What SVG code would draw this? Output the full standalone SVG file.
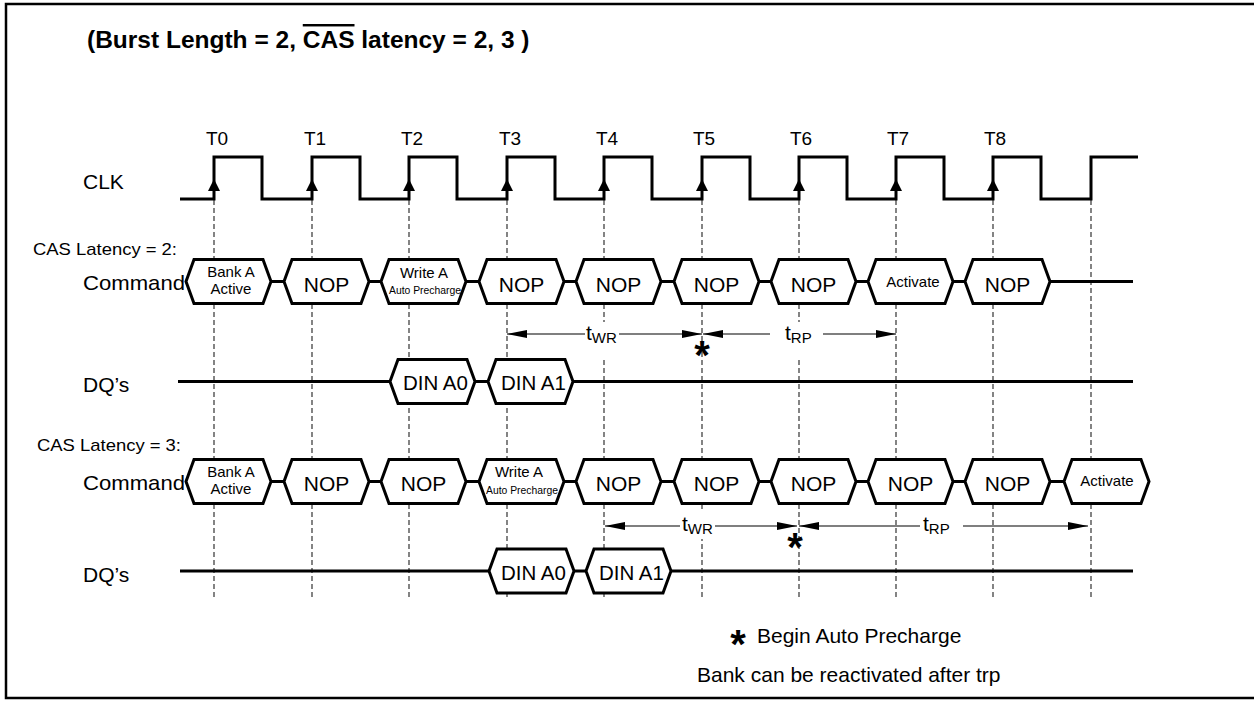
<svg xmlns="http://www.w3.org/2000/svg" xmlns:xlink="http://www.w3.org/1999/xlink" width="1254" height="701" viewBox="0 0 1254 701">
<style>
  text { font-family: "Liberation Sans", Arial, sans-serif; fill: #000; }
  .lbl { font-size: 21px; }
  .small { font-size: 15px; }
  .tiny { font-size: 11.5px; }
  .mid { text-anchor: middle; }
  .sig { fill: none; stroke: #000; stroke-width: 3; stroke-linejoin: miter; }
  .hex { fill: #fff; stroke: #000; stroke-width: 3; stroke-linejoin: miter; }
  .dash { stroke: #333; stroke-width: 1.2; stroke-dasharray: 5 3; fill: none; }
  .arr { stroke: #000; stroke-width: 1.2; fill: none; marker-end: url(#ah); }
  .mask { fill: #fff; stroke: none; }
  .star { font-size: 40px; font-weight: bold; text-anchor: middle; }
  .tt { font-size: 21px; }
  .sub { font-size: 15px; }
</style>
<defs>
  <marker id="ah" markerUnits="userSpaceOnUse" markerWidth="21" markerHeight="9" refX="20" refY="4" orient="auto">
    <path d="M0,0 L20,4 L0,8 Z" fill="#000"/>
  </marker>
  <path id="hx" d="M0,0 L8,-22 L77,-22 L85,0 L77,22 L8,22 Z"/>
  <path id="up" d="M0,-10 L-6,2 L6,2 Z" fill="#000"/>
</defs>
<rect width="1254" height="701" fill="#fff"/>

<g id="frame">
  <path d="M1254,4 H6 V698 H1254" fill="none" stroke="#000" stroke-width="2.5"/>
</g>

<g id="title">
  <text x="87" y="48" style="font-size:24.5px;font-weight:bold">(Burst Length = 2, <tspan style="text-decoration:overline">CAS</tspan> latency = 2, 3 )</text>
</g>

<g id="gridlines">
  <path class="dash" d="M214,200 V600 M312,200 V600 M409,200 V600 M507,200 V600 M604,200 V600 M702,200 V600 M799,200 V600 M896,200 V600 M993,200 V600 M1091,200 V600"/>
</g>

<g id="clk">
  <text class="lbl" x="83" y="189">CLK</text>
  <path class="sig" d="M180,199 H214 V157 H262 V199 H312 V157 H360 V199 H409 V157 H457 V199 H507 V157 H555 V199 H604 V157 H652 V199 H702 V157 H750 V199 H799 V157 H847 V199 H896 V157 H944 V199 H993 V157 H1041 V199 H1091 V157 H1138"/>
  <use xlink:href="#up" x="214" y="189"/>
  <use xlink:href="#up" x="312" y="189"/>
  <use xlink:href="#up" x="409" y="189"/>
  <use xlink:href="#up" x="507" y="189"/>
  <use xlink:href="#up" x="604" y="189"/>
  <use xlink:href="#up" x="702" y="189"/>
  <use xlink:href="#up" x="799" y="189"/>
  <use xlink:href="#up" x="896" y="189"/>
  <use xlink:href="#up" x="993" y="189"/>
  <g style="font-size:19px">
    <text x="206" y="145">T0</text>
    <text x="304" y="145">T1</text>
    <text x="401" y="145">T2</text>
    <text x="499" y="145">T3</text>
    <text x="596" y="145">T4</text>
    <text x="693" y="145">T5</text>
    <text x="790" y="145">T6</text>
    <text x="887" y="145">T7</text>
    <text x="984" y="145">T8</text>
  </g>
</g>

<g id="labels">
  <text x="33" y="255" style="font-size:17px" textLength="144" lengthAdjust="spacingAndGlyphs">CAS Latency = 2:</text>
  <text class="lbl" x="83" y="290" textLength="102" lengthAdjust="spacingAndGlyphs">Command</text>
  <text class="lbl" x="83" y="391.5">DQ’s</text>
  <text x="37" y="451" style="font-size:17px" textLength="144" lengthAdjust="spacingAndGlyphs">CAS Latency = 3:</text>
  <text class="lbl" x="83" y="490" textLength="102" lengthAdjust="spacingAndGlyphs">Command</text>
  <text class="lbl" x="83" y="582">DQ’s</text>
</g>

<g id="buses">
  <path class="sig" d="M186,281.5 H1133 M186,481.5 H1149 M178,381.5 H1133 M180,571 H1133"/>
</g>

<!-- CAS latency 2 command row -->
<g id="c2-t0"><use xlink:href="#hx" class="hex" x="186" y="281.5"/><text class="small mid" x="231" y="277">Bank A</text><text class="small mid" x="231" y="293.5">Active</text></g>
<g id="c2-t1"><use xlink:href="#hx" class="hex" x="284" y="281.5"/><text class="lbl mid" x="326.5" y="291.5">NOP</text></g>
<g id="c2-t2"><use xlink:href="#hx" class="hex" x="381" y="281.5"/><text class="small mid" x="424" y="278">Write A</text><text class="tiny mid" x="425" y="293.5" textLength="72" lengthAdjust="spacingAndGlyphs">Auto Precharge</text></g>
<g id="c2-t3"><use xlink:href="#hx" class="hex" x="479" y="281.5"/><text class="lbl mid" x="521.5" y="291.5">NOP</text></g>
<g id="c2-t4"><use xlink:href="#hx" class="hex" x="576" y="281.5"/><text class="lbl mid" x="618.5" y="291.5">NOP</text></g>
<g id="c2-t5"><use xlink:href="#hx" class="hex" x="674" y="281.5"/><text class="lbl mid" x="716.5" y="291.5">NOP</text></g>
<g id="c2-t6"><use xlink:href="#hx" class="hex" x="771" y="281.5"/><text class="lbl mid" x="813.5" y="291.5">NOP</text></g>
<g id="c2-t7"><use xlink:href="#hx" class="hex" x="868" y="281.5"/><text class="small mid" x="913" y="287">Activate</text></g>
<g id="c2-t8"><use xlink:href="#hx" class="hex" x="965" y="281.5"/><text class="lbl mid" x="1007.5" y="291.5">NOP</text></g>

<!-- CAS latency 2 data row -->
<g id="d2-a0"><use xlink:href="#hx" class="hex" x="390" y="381.5"/><text x="403" y="390" style="font-size:20.5px">DIN A0</text></g>
<g id="d2-a1"><use xlink:href="#hx" class="hex" x="488" y="381.5"/><text x="501" y="390" style="font-size:20.5px">DIN A1</text></g>

<!-- CAS latency 3 command row -->
<g id="c3-t0"><use xlink:href="#hx" class="hex" x="186" y="481.5"/><text class="small mid" x="231" y="477">Bank A</text><text class="small mid" x="231" y="493.5">Active</text></g>
<g id="c3-t1"><use xlink:href="#hx" class="hex" x="284" y="481.5"/><text class="lbl mid" x="326.5" y="491">NOP</text></g>
<g id="c3-t2"><use xlink:href="#hx" class="hex" x="381" y="481.5"/><text class="lbl mid" x="423.5" y="491">NOP</text></g>
<g id="c3-t3"><use xlink:href="#hx" class="hex" x="479" y="481.5"/><text class="small mid" x="519" y="477">Write A</text><text class="tiny mid" x="522" y="493.5" textLength="72" lengthAdjust="spacingAndGlyphs">Auto Precharge</text></g>
<g id="c3-t4"><use xlink:href="#hx" class="hex" x="576" y="481.5"/><text class="lbl mid" x="618.5" y="491">NOP</text></g>
<g id="c3-t5"><use xlink:href="#hx" class="hex" x="674" y="481.5"/><text class="lbl mid" x="716.5" y="491">NOP</text></g>
<g id="c3-t6"><use xlink:href="#hx" class="hex" x="771" y="481.5"/><text class="lbl mid" x="813.5" y="491">NOP</text></g>
<g id="c3-t7"><use xlink:href="#hx" class="hex" x="868" y="481.5"/><text class="lbl mid" x="910.5" y="491">NOP</text></g>
<g id="c3-t8"><use xlink:href="#hx" class="hex" x="965" y="481.5"/><text class="lbl mid" x="1007.5" y="491">NOP</text></g>
<g id="c3-t9"><use xlink:href="#hx" class="hex" x="1064" y="481.5"/><text class="small mid" x="1107" y="486">Activate</text></g>

<!-- CAS latency 3 data row -->
<g id="d3-a0"><use xlink:href="#hx" class="hex" x="489" y="571"/><text x="501" y="580" style="font-size:20.5px">DIN A0</text></g>
<g id="d3-a1"><use xlink:href="#hx" class="hex" x="586" y="571"/><text x="599" y="580" style="font-size:20.5px">DIN A1</text></g>

<g id="connectors">
  <rect class="mask" x="583" y="322" width="38" height="35"/>
  <rect class="mask" x="782" y="322" width="34" height="35"/>
  <rect class="mask" x="679" y="512" width="38" height="27"/>
  <line class="arr" x1="585" y1="334" x2="507" y2="334"/>
  <line class="arr" x1="619" y1="334" x2="702" y2="334"/>
  <line class="arr" x1="770" y1="334" x2="703" y2="334"/>
  <line class="arr" x1="823" y1="334" x2="896" y2="334"/>
  <line class="arr" x1="680" y1="526" x2="605" y2="526"/>
  <line class="arr" x1="715" y1="526" x2="797" y2="526"/>
  <line class="arr" x1="920" y1="526" x2="799" y2="526"/>
  <line class="arr" x1="963" y1="526" x2="1088" y2="526"/>
  <text class="tt" x="586" y="340">t<tspan class="sub" dy="3">WR</tspan></text>
  <text class="tt" x="785" y="340">t<tspan class="sub" dy="3">RP</tspan></text>
  <text class="tt" x="682" y="531">t<tspan class="sub" dy="3">WR</tspan></text>
  <text class="tt" x="923" y="531">t<tspan class="sub" dy="3">RP</tspan></text>
  <text class="star" x="702" y="369">*</text>
  <text class="star" x="795" y="561">*</text>
</g>

<g id="legend">
  <text class="star" x="738" y="658">*</text>
  <text class="lbl" x="757" y="643">Begin Auto Precharge</text>
  <text class="lbl" x="697" y="682">Bank can be reactivated after trp</text>
</g>
</svg>
